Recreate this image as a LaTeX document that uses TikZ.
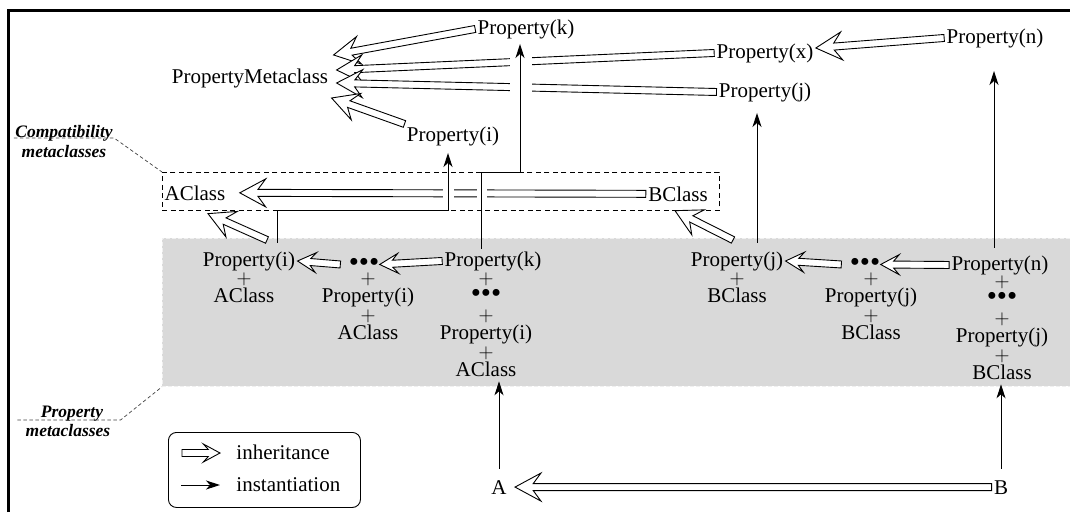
\documentclass[tikz,border=0pt]{standalone}
\usepackage{fontspec}
\setmainfont{Liberation Serif}
\usetikzlibrary{arrows.meta,calc}

\tikzset{
  txt/.style={font=\fontsize{21}{24}\selectfont, inner sep=2pt, anchor=base},
  tail/.style={font=\fontsize{21}{18.5}\selectfont, inner sep=0pt, align=center, anchor=north},
  lbl/.style={font=\fontsize{17.5}{20}\selectfont\bfseries\itshape, inner sep=1pt, anchor=base},
  inst/.style={-{Stealth[length=14pt,width=9pt,inset=4pt]}, line width=1pt},
  hollow/.style={draw, fill=white, line width=0.9pt, line join=miter},
  leader/.style={dash pattern=on 3.5pt off 2.5pt, line width=0.7pt, black!75},
  compat/.style={draw, dash pattern=on 5pt off 3.5pt, line width=0.9pt,
    minimum width=557pt, minimum height=38pt, inner sep=0pt},
  band/.style={fill=black!15, draw=black!6, dash pattern=on 4pt off 2pt, line width=0.8pt,
    minimum width=908pt, minimum height=148pt, inner sep=0pt},
  legend/.style={draw, rounded corners=8pt, line width=0.9pt,
    minimum width=192pt, minimum height=75pt, inner sep=0pt}
}

\newcommand\dotz{{\fontsize{29}{18.5}\selectfont\textbullet\textbullet\textbullet}}

% hollow inheritance arrow: [head half width]{from}{tip}
\newcommand\inh[3][14]{%
  \path[hollow] let \p1=#2, \p2=#3, \n1={atan2(\y1-\y2,\x1-\x2)},
      \n2={1.85*#1}, \n3={1.3*#1} in
    (\p2) -- ($(\p2)+(\n1:\n2)+(\n1+90:#1)$) -- ($(\p2)+(\n1:\n3)+(\n1+90:3.5)$)
    -- ($(\p1)+(\n1+90:3.5)$) -- ($(\p1)+(\n1-90:3.5)$)
    -- ($(\p2)+(\n1:\n3)+(\n1-90:3.5)$) -- ($(\p2)+(\n1:\n2)+(\n1-90:#1)$) -- cycle;}

\begin{document}
\begin{tikzpicture}[x=1pt, y=1pt, line width=0.9pt]
\useasboundingbox (0,0) rectangle (1070,-512);

% metaclass areas
\node[band, anchor=north west] (band) at (162,-238) {};
\node[compat, anchor=north west] (cbox) at (162,-172) {};

% top level
\node[txt] (pkt) at (526,-34) {Property(k)};
\node[txt] (pmc) at (250,-83) {PropertyMetaclass};
\node[txt] (pxt) at (765,-58) {Property(x)};
\node[txt] (pnt) at (995,-43) {Property(n)};
\node[txt] (pjt) at (765,-97) {Property(j)};
\node[txt] (pit) at (453,-141) {Property(i)};

% compatibility metaclasses
\node[txt] (acl) at (195,-200) {AClass};
\node[txt] (bcl) at (678,-201) {BClass};

% side labels
\node[lbl] (cmpa) at (64,-137) {Compatibility};
\node[lbl] (cmpb) at (64,-157) {metaclasses};
\node[lbl] (prla) at (72,-417) {Property};
\node[lbl] (prlb) at (68,-436) {metaclasses};
\draw[leader] ([yshift=-1pt]cmpa.base west) -- ([yshift=-1pt]cmpa.base east) -- (cbox.north west);
\draw[leader] ([xshift=-22pt,yshift=-3pt]prla.base west) -- ([xshift=16pt,yshift=-3pt]prla.base east)
  -- (band.south west);

% property metaclasses
\node[txt] (pia) at (249,-266) {Property(i)};
\node[txt] (dta) at (364,-271) {\dotz};
\node[txt] (pka) at (493,-266) {Property(k)};
\node[txt] (pjb) at (737,-266) {Property(j)};
\node[txt] (dtb) at (865,-271) {\dotz};
\node[txt] (pnb) at (1000,-270) {Property(n)};
\node[tail] (a1t) at (244,-272) {$+$\\AClass};
\node[tail] (a2t) at (368,-272) {$+$\\Property(i)\\$+$\\AClass};
\node[tail] (a3t) at (486,-272) {$+$\\\dotz\\$+$\\Property(i)\\$+$\\AClass};
\node[tail] (b1t) at (737,-272) {$+$\\BClass};
\node[tail] (b2t) at (871,-272) {$+$\\Property(j)\\$+$\\BClass};
\node[tail] (b3t) at (1002,-275) {$+$\\\dotz\\$+$\\Property(j)\\$+$\\BClass};

% classes
\node[txt] (A) at (499,-494) {A};
\node[txt] (B) at (1001,-494) {B};

% inheritance
\inh{(pkt.west)}{([shift={(3,23)}]pmc.east)}
\inh{(pxt.west)}{([shift={(6,8)}]pmc.east)}
\inh{(pjt.west)}{([shift={(6,-5)}]pmc.east)}
\inh{(pit.north west)}{([shift={(1,-20)}]pmc.east)}
\inh{(pnt.west)}{([yshift=5pt]pxt.east)}
\inh{(bcl.west)}{([xshift=12pt]acl.east)}
\inh{([xshift=18pt,yshift=9pt]pia.north)}{([xshift=13pt,yshift=-11pt]acl.south)}
\inh{([xshift=-4pt,yshift=9pt]pjb.north)}{([xshift=-3pt,yshift=-7pt]bcl.south)}
\inh[10]{([xshift=-6pt]dta.west)}{(pia.east)}
\inh[10]{(pka.west)}{([xshift=-2pt]dta.east)}
\inh[10]{([xshift=-6pt]dtb.west)}{(pjb.east)}
\inh[10]{(pnb.west)}{([xshift=-2pt]dtb.east)}
\inh{(B.west)}{([xshift=6pt]A.east)}

% crossings
\fill[white] (443,-185) rectangle (454,-201);
\fill[white] (477,-185) rectangle (487,-201);
\fill[white] (510,-55) rectangle (532,-94);

% instantiation
\coordinate (ibend) at (448,-210);
\coordinate (kbend) at (520,-172);
\draw[inst, shorten >=5pt] ([xshift=28pt,yshift=6pt]pia.north) |- (ibend) -- (ibend |- pit.south);
\draw[inst, shorten >=3pt] ([xshift=-12pt]pka.north) |- (kbend) -- (kbend |- pkt.south);
\draw[inst, shorten >=9pt] ([xshift=20pt,yshift=6pt]pjb.north) -- ([xshift=20pt]pjb.north |- pjt.south);
\draw[inst, shorten >=21pt] ([xshift=-6pt,yshift=5pt]pnb.north) -- ([xshift=-6pt]pnb.north |- pnt.south);
\draw[inst] ([yshift=9pt]A.north) -- ([yshift=-4pt]A.north |- a3t.south);
\draw[inst] ([yshift=9pt]B.north) -- ([yshift=-4pt]B.north |- b3t.south);

% legend
\node[legend, anchor=north west] (lgd) at (168,-432) {};
\coordinate (lia) at (182,-453);
\coordinate (lib) at (220,-453);
\coordinate (lna) at (181,-485);
\coordinate (lnb) at (220,-485);
\inh[9]{(lia)}{(lib)}
\draw[inst] (lna) -- (lnb);
\node[txt, anchor=base west] (lgi) at (234,-459) {inheritance};
\node[txt, anchor=base west] (lgn) at (234,-491) {instantiation};

% frame
\draw[line width=3pt] (8,-512) -- (8,-10) -- (1070,-10);
\end{tikzpicture}
\end{document}
